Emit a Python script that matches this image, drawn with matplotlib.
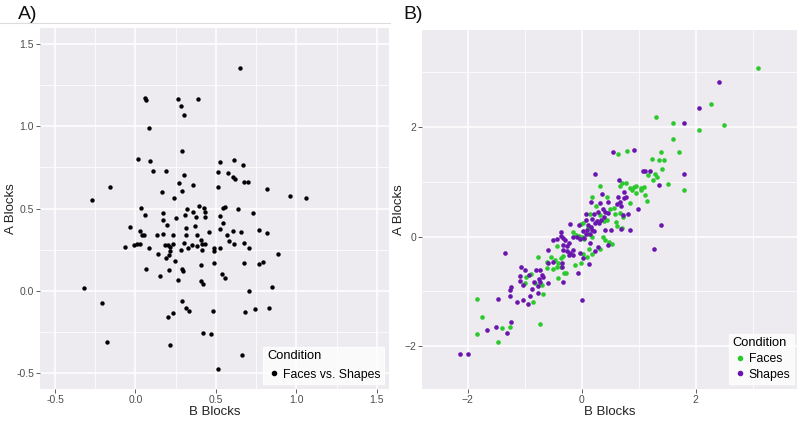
import matplotlib
matplotlib.use("Agg")
import matplotlib.pyplot as plt
from matplotlib.lines import Line2D
import numpy as np

plt.rcParams['font.family'] = ['Liberation Sans', 'DejaVu Sans']

# ---------------- Panel A data (B Blocks, A Blocks) ----------------
a_x = [0.648, 0.058, 0.068, 0.263, 0.389, 0.281, 0.302, 0.083, 0.290, 0.014,
       0.089, 0.110, 0.191, 0.524, 0.613, 0.666, 0.511, 0.576, 0.607, 0.621,
       0.302, 0.269, 0.360, 0.675, 0.700, 0.514, 0.820, 0.961, 1.058, -0.157,
       -0.273, 0.166, 0.292, 0.238, 0.037, 0.319, 0.396, 0.427, 0.547, 0.557,
       0.635, 0.062, 0.174, 0.253, 0.306, 0.358, 0.379, 0.433, 0.435, 0.526,
       0.729, -0.033, 0.170, 0.197, 0.031, 0.039, 0.054, 0.135, 0.174, 0.232,
       0.312, 0.312, 0.373, 0.383, 0.455, 0.542, 0.528, 0.567, 0.604, 0.654,
       0.770, 0.818, -0.068, -0.006, 0.012, 0.029, 0.087, 0.182, 0.205, 0.217,
       0.234, 0.302, 0.325, 0.352, 0.383, 0.408, 0.416, 0.429, 0.489, 0.489,
       0.528, 0.582, 0.613, 0.675, 0.706, 0.139, 0.216, 0.188, 0.211, 0.247,
       0.286, 0.412, 0.410, 0.489, 0.673, 0.768, 0.795, 0.888, 0.068, 0.155,
       0.207, 0.290, 0.294, 0.265, 0.408, 0.418, 0.540, 0.555, -0.317, -0.209,
       0.288, 0.312, 0.331, 0.234, 0.201, 0.483, 0.683, 0.745, 0.832, 0.708,
       0.851, -0.176, 0.216, 0.420, 0.470, 0.665, 0.511]
a_y = [1.352, 1.175, 1.160, 1.169, 1.165, 1.124, 1.071, 0.990, 0.849, 0.801,
       0.787, 0.730, 0.730, 0.780, 0.795, 0.764, 0.724, 0.713, 0.689, 0.679,
       0.703, 0.654, 0.642, 0.659, 0.659, 0.628, 0.620, 0.577, 0.563, 0.628,
       0.553, 0.599, 0.608, 0.561, 0.504, 0.498, 0.516, 0.506, 0.504, 0.510,
       0.494, 0.463, 0.471, 0.443, 0.459, 0.477, 0.447, 0.477, 0.447, 0.457,
       0.474, 0.386, 0.431, 0.398, 0.362, 0.340, 0.340, 0.340, 0.346, 0.337,
       0.380, 0.340, 0.395, 0.340, 0.355, 0.410, 0.376, 0.337, 0.362, 0.355,
       0.370, 0.349, 0.268, 0.276, 0.282, 0.285, 0.262, 0.280, 0.276, 0.268,
       0.282, 0.291, 0.262, 0.276, 0.274, 0.309, 0.287, 0.287, 0.258, 0.240,
       0.258, 0.305, 0.287, 0.288, 0.258, 0.224, 0.242, 0.197, 0.215, 0.181,
       0.248, 0.246, 0.157, 0.169, 0.166, 0.163, 0.173, 0.221, 0.130, 0.087,
       0.126, 0.132, 0.118, 0.067, 0.061, 0.043, 0.099, 0.077, 0.014, -0.075,
       -0.065, -0.105, -0.124, -0.134, -0.159, -0.122, -0.130, -0.110, -0.105, -0.004,
       0.024, -0.313, -0.331, -0.260, -0.264, -0.390, -0.477]

# ---------------- Panel B data ----------------
faces_x = [3.10, 2.26, 1.30, 1.61, 2.06, 2.49, 1.61, 1.71, 0.64, 0.79,
           1.39, 1.23, 1.36, 1.45, 1.41, 1.16, 1.28, 1.32, 1.25, 0.70,
           0.77, 1.52, 1.79, 0.33, 0.68, 0.85, 0.91, 0.95, 1.04, 1.09,
           0.88, 0.96, 1.04, 1.11, 1.14, 0.18, 0.44, 0.26, 0.84, 0.50,
           0.57, 0.15, 0.33, 0.58, 0.72, 0.67, 0.39, 0.44, 0.60, 0.62,
           0.70, -0.02, 0.03, 0.11, -0.15, -0.10, 0.00, 0.04, 0.38, -0.05,
           0.19, 0.11, 0.41, 0.48, 0.54, 0.33, -0.43, 0.12, 0.19, 0.03,
           0.09, -0.77, -0.53, -0.37, -0.33, -0.46, -0.41, -0.11, -0.02, -0.60,
           -0.51, -0.44, -0.37, -0.27, -0.42, -0.31, -0.99, -0.81, -0.70, -0.67,
           -0.86, -1.84, -1.74, -1.39, -1.25, -0.73, -1.84, -1.47, -0.88, -0.98,
           -0.61]
faces_y = [3.08, 2.42, 2.18, 2.08, 1.94, 2.03, 1.79, 1.54, 1.50, 1.56,
           1.55, 1.41, 1.40, 1.40, 1.23, 1.12, 1.14, 1.09, 1.04, 0.98,
           0.97, 0.96, 0.85, 0.92, 0.92, 0.89, 0.91, 0.92, 0.88, 0.90,
           0.85, 0.80, 0.85, 0.76, 0.65, 0.73, 0.72, 0.56, 0.62, 0.50,
           0.53, 0.42, 0.39, 0.41, 0.36, 0.43, 0.28, 0.30, 0.26, 0.20,
           0.15, 0.23, 0.25, 0.16, 0.08, 0.03, 0.00, -0.05, -0.01, 0.01,
           0.00, 0.05, -0.07, -0.09, -0.14, -0.22, -0.17, -0.22, -0.32, -0.32,
           -0.37, -0.37, -0.37, -0.39, -0.35, -0.42, -0.48, -0.51, -0.48, -0.57,
           -0.59, -0.56, -0.56, -0.67, -0.76, -0.66, -0.85, -0.85, -0.89, -1.05,
           -1.20, -1.14, -1.46, -1.66, -1.65, -1.59, -1.78, -1.92, -0.69, -0.73,
           -0.47]

shapes_x = [2.41, 2.05, 1.79, 0.55, 0.91, 1.07, 1.11, 1.20, 0.23, 0.66,
            1.36, 1.79, 0.74, 0.36, 0.17, 0.64, 0.75, 0.78, 0.98, 0.69,
            0.62, 0.68, 0.37, 0.41, 0.29, 0.21, 0.39, 0.47, 0.08, 0.18,
            0.27, 0.34, 0.23, 0.31, 0.85, 0.51, 0.41, 0.08, -0.21, -0.04,
            0.11, 0.16, 0.10, 0.19, 0.15, -0.37, -0.37, -0.32, -0.43, -0.50,
            0.82, 0.73, 0.22, 0.02, 1.26, 1.39, -1.35, -0.29, -0.33, -0.26,
            -0.22, -0.16, -0.08, -0.03, 0.08, 0.04, 0.15, 0.46, -0.59, -0.32,
            -0.25, -0.21, -0.15, -0.22, -0.16, -0.03, 0.23, 0.29, -0.59, -0.51,
            -0.35, -0.34, 0.12, 0.03, -1.06, -1.00, -1.08, -0.92, -0.70, -0.74,
            -0.67, -0.80, -0.73, -0.32, -0.07, -1.08, -1.02, -0.83, -0.73, -0.59,
            -0.76, -1.24, -1.25, -0.87, -0.76, -0.91, -1.47, -1.25, -1.02, 0.01,
            -1.14, -0.94, -1.24, -1.50, -1.66, -1.31, -2.14, -1.99, 0.32, 0.47,
            0.69]
shapes_y = [2.82, 2.34, 2.08, 1.54, 1.58, 1.20, 1.20, 1.19, 1.14, 1.03,
            0.95, 1.14, 0.81, 0.78, 0.64, 0.72, 0.70, 0.73, 0.50, 0.56,
            0.59, 0.64, 0.50, 0.45, 0.45, 0.41, 0.36, 0.43, 0.41, 0.33,
            0.29, 0.31, 0.24, 0.24, 0.12, 0.12, 0.12, 0.30, 0.23, 0.21,
            0.22, 0.18, 0.12, 0.13, 0.05, 0.08, 0.01, -0.03, -0.05, -0.06,
            0.41, 0.39, 0.11, 0.10, -0.22, 0.22, -0.30, -0.06, -0.16, -0.17,
            -0.11, 0.00, 0.00, -0.05, 0.05, -0.03, -0.12, -0.16, -0.25, -0.25,
            -0.26, -0.30, -0.25, -0.34, -0.34, -0.30, -0.26, -0.19, -0.48, -0.46,
            -0.49, -0.56, -0.50, -0.39, -0.55, -0.61, -0.72, -0.70, -0.70, -0.78,
            -0.73, -0.61, -0.60, -0.82, -0.67, -0.81, -0.88, -0.82, -0.82, -0.85,
            -0.90, -0.92, -0.98, -0.95, -1.03, -1.08, -1.13, -1.09, -1.16, -1.16,
            -1.20, -1.23, -1.56, -1.65, -1.71, -1.75, -2.14, -2.15, 0.61, 0.64,
            0.14]

legend_title = "Condition"
a_label = "Faces vs. Shapes"
b_labels = ["Faces", "Shapes"]

# ---------------- styling ----------------
PANEL_BG = "#EDEAF0"
GREEN = "#2CC92C"
PURPLE = "#6A16AE"
TICK_COL = "#4D4D4D"


def style_axes(ax, xmaj, xmin, ymaj, ymin, xlab, ylab, ylab_x):
    ax.set_facecolor(PANEL_BG)
    for s in ax.spines.values():
        s.set_visible(False)
    ax.set_xticks(xmaj)
    ax.set_yticks(ymaj)
    ax.set_xticks(xmin, minor=True)
    ax.set_yticks(ymin, minor=True)
    ax.grid(which='major', color='white', linewidth=1.1)
    ax.grid(which='minor', color='white', linewidth=0.55)
    ax.set_axisbelow(True)
    ax.tick_params(which='major', length=2.8, width=0.6, color='#444444',
                   labelcolor=TICK_COL, labelsize=7.5, pad=1.5)
    ax.tick_params(which='minor', length=0)
    ax.set_xlabel(xlab, fontsize=9.5, color='#222222')
    ax.set_ylabel(ylab, fontsize=9.5, color='#222222')
    ax.xaxis.set_label_coords(0.5, -0.047)
    ax.yaxis.set_label_coords(ylab_x, 0.5)


fig = plt.figure(figsize=(8.0, 4.22), dpi=100)

# Panel A
axA = fig.add_axes([0.050, 0.0782, 0.436, 0.8554])
style_axes(axA, [-0.5, 0.0, 0.5, 1.0, 1.5], [-0.25, 0.25, 0.75, 1.25],
           [-0.5, 0.0, 0.5, 1.0, 1.5], [-0.25, 0.25, 0.75, 1.25],
           "B Blocks", "A Blocks", -0.066)
axA.scatter(a_x, a_y, s=10, color='black', linewidths=0, zorder=3)
axA.set_xlim(-0.593, 1.574)
axA.set_ylim(-0.598, 1.598)
axA.set_xticklabels(["-0.5", "0.0", "0.5", "1.0", "1.5"])
axA.set_yticklabels(["-0.5", "0.0", "0.5", "1.0", "1.5"])
hA = [Line2D([], [], marker='o', linestyle='', color='black', markersize=3)]
legA = axA.legend(hA, [a_label], title=legend_title, loc='lower right',
                  bbox_to_anchor=(0.99, 0.01), frameon=True, fontsize=8.8,
                  title_fontsize=9.3, handletextpad=0.1, borderpad=0.3,
                  handlelength=1.2, borderaxespad=0.1, fancybox=False)
legA.get_frame().set_edgecolor('white')
legA.get_frame().set_facecolor('white')
legA._legend_box.align = "left"

# Panel B
axB = fig.add_axes([0.5275, 0.0782, 0.469, 0.8507])
style_axes(axB, [-2, 0, 2], [-1, 1, 3], [-2, 0, 2], [-1, 1, 3],
           "B Blocks", "A Blocks", -0.045)
axB.scatter(faces_x, faces_y, s=11, color=GREEN, linewidths=0, zorder=3)
axB.scatter(shapes_x, shapes_y, s=11, color=PURPLE, linewidths=0, zorder=3)
axB.set_xlim(-2.80, 3.78)
axB.set_ylim(-2.78, 3.77)
hB = [Line2D([], [], marker='o', linestyle='', color=GREEN, markersize=3),
      Line2D([], [], marker='o', linestyle='', color=PURPLE, markersize=3)]
legB = axB.legend(hB, b_labels, title=legend_title, loc='lower right',
                  bbox_to_anchor=(0.995, 0.01), frameon=True, fontsize=8.8,
                  title_fontsize=9.3, handletextpad=0.1, borderpad=0.3,
                  handlelength=1.2, borderaxespad=0.1, fancybox=False,
                  labelspacing=0.3)
legB.get_frame().set_edgecolor('white')
legB.get_frame().set_facecolor('white')
legB._legend_box.align = "left"

# Panel labels
fig.text(0.022, 0.985, "A)", fontsize=14, ha='left', va='top', color='#111111')
fig.text(0.504, 0.985, "B)", fontsize=14, ha='left', va='top', color='#111111')
fig.add_artist(Line2D([0.0, 0.488], [0.945, 0.945], transform=fig.transFigure,
                      color='#DDDDDD', linewidth=0.8))

fig.savefig("out.png", dpi=100, facecolor='white')
